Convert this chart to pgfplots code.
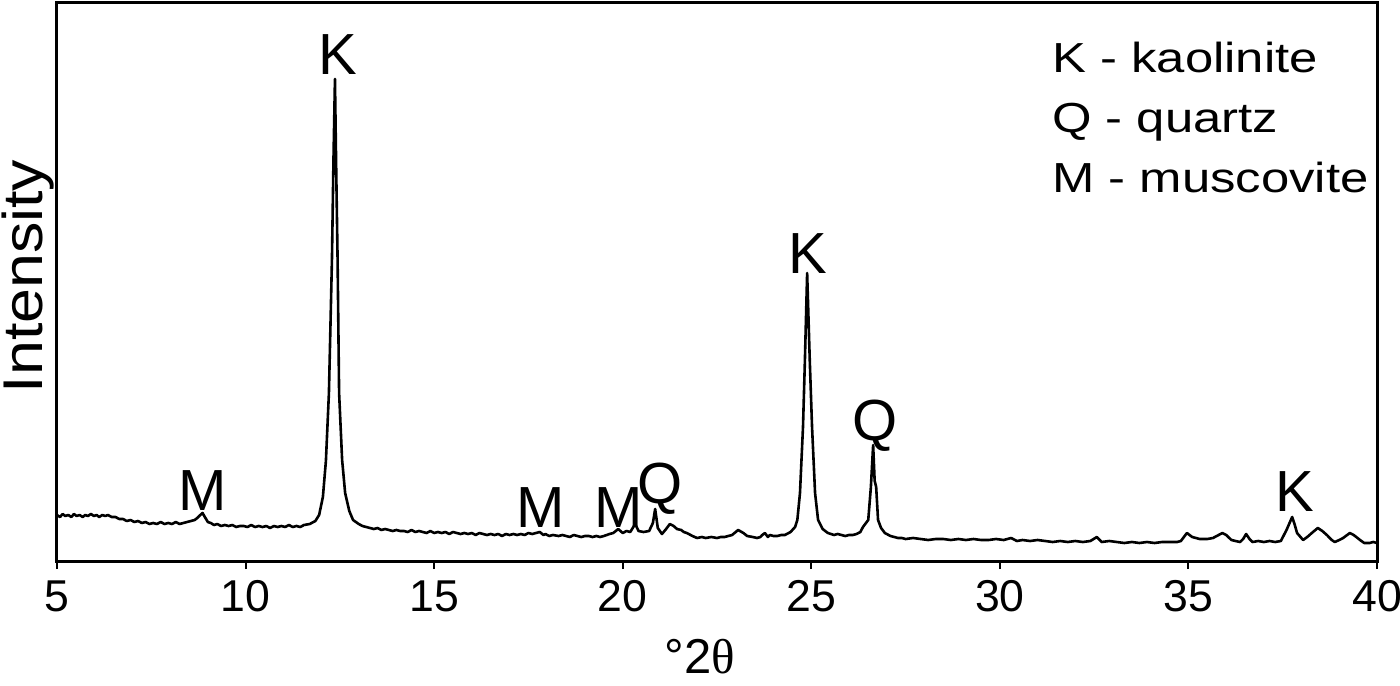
\documentclass[border=0pt]{standalone}
\usepackage{pgfplots}
\pgfplotsset{compat=1.18}
\usepackage{fontspec}
\setmainfont{Liberation Sans}
\newfontfamily\serifgreek{Liberation Serif}
\pgfplotstableread{
x y
5.00 46
5.08 44
5.15 47
5.22 45
5.30 46
5.38 44
5.45 47
5.52 45
5.60 46
5.68 44
5.75 46
5.82 45
5.90 47
5.98 45
6.05 46
6.12 44
6.20 46
6.28 45
6.35 46
6.45 44
6.55 44
6.65 42
6.75 42
6.85 40
6.95 41
7.05 39
7.15 40
7.25 38
7.35 39
7.45 37
7.55 38
7.65 37
7.75 39
7.85 37
7.95 38
8.05 37
8.15 39
8.25 37
8.35 38
8.45 39
8.55 40
8.65 41
8.72 43
8.80 46
8.86 48
8.92 44
9.00 39
9.08 38
9.16 36
9.25 37
9.35 35
9.45 36
9.55 35
9.65 36
9.75 34
9.85 35
9.95 35
10.05 34
10.15 36
10.25 34
10.35 35
10.45 34
10.55 35
10.65 33
10.75 35
10.85 34
10.95 35
11.05 34
11.15 36
11.25 34
11.35 35
11.45 34
11.55 36
11.70 37
11.85 40
11.95 46
12.05 64
12.13 100
12.21 168
12.29 301
12.33 400
12.37 482
12.40 400
12.44 301
12.48 168
12.56 101
12.64 68
12.75 50
12.85 41
13.00 37
13.10 35
13.20 34
13.30 33
13.40 32
13.50 33
13.60 31
13.70 32
13.80 31
13.90 30
14.00 31
14.10 30
14.20 30
14.30 29
14.40 31
14.50 29
14.60 30
14.70 29
14.80 28
14.90 30
15.00 28
15.10 29
15.20 28
15.30 29
15.40 27
15.50 29
15.60 28
15.70 27
15.80 28
15.90 27
16.00 28
16.10 26
16.20 28
16.30 27
16.40 26
16.50 27
16.60 26
16.70 27
16.80 25
16.90 27
17.00 26
17.10 27
17.20 26
17.30 27
17.40 26
17.50 28
17.60 27
17.70 28
17.80 29
17.90 26
17.95 27
18.05 25
18.15 26
18.30 25
18.40 26
18.50 25
18.60 24
18.70 26
18.80 25
18.90 24
19.00 25
19.10 25
19.20 24
19.30 25
19.40 24
19.50 25
19.65 27
19.75 28
19.88 32
20.00 28
20.10 30
20.20 29
20.33 37
20.42 30
20.55 29
20.70 30
20.80 38
20.86 52
20.93 33
21.04 27
21.15 32
21.25 37
21.35 35
21.44 32
21.55 31
21.62 29
21.70 28
21.85 25
21.97 23
22.10 24
22.20 23
22.35 24
22.50 23
22.60 24
22.70 24
22.80 25
22.90 26
23.06 31
23.20 28
23.30 25
23.45 24
23.56 23
23.65 24
23.70 26
23.77 28
23.85 24
23.90 26
24.00 25
24.10 25
24.20 26
24.30 26
24.45 29
24.57 34
24.63 41
24.70 68
24.78 134
24.83 200
24.89 288
24.96 200
25.02 134
25.10 68
25.18 41
25.30 32
25.44 28
25.52 27
25.60 26
25.70 27
25.80 26
25.90 25
26.00 26
26.10 26
26.20 27
26.30 29
26.37 34
26.45 38
26.51 41
26.58 74
26.64 116
26.68 80
26.72 74
26.77 41
26.85 33
26.95 28
27.10 25
27.20 24
27.30 23
27.40 23
27.50 22
27.70 23
27.90 22
28.10 21
28.30 22
28.50 22
28.70 21
28.90 22
29.10 21
29.30 22
29.50 21
29.70 21
29.90 22
30.10 21
30.30 23
30.45 20
30.60 21
30.80 20
31.00 21
31.20 20
31.40 19
31.60 20
31.80 19
32.00 20
32.20 19
32.40 20
32.57 24
32.70 19
32.90 20
33.10 19
33.30 18
33.50 19
33.70 18
33.90 19
34.10 18
34.30 19
34.50 19
34.70 19
34.80 20
34.96 28
35.10 24
35.30 22
35.50 22
35.65 23
35.80 26
35.90 28
36.00 26
36.14 21
36.25 20
36.37 19
36.45 22
36.53 27
36.62 22
36.70 19
36.85 20
37.00 19
37.15 20
37.30 19
37.45 20
37.60 31
37.75 44
37.82 36
37.88 28
38.04 21
38.15 24
38.27 28
38.43 33
38.55 30
38.67 26
38.80 21
38.88 19
39.00 21
39.10 23
39.28 28
39.38 26
39.45 24
39.55 21
39.66 18
39.80 18
39.90 19
40.00 18
}\xrd
\begin{document}
\begin{tikzpicture}
\begin{axis}[
  scale only axis,
  width=660pt, height=279pt,
  xmin=5, xmax=40, ymin=0, ymax=558,
  xtick={5,10,15,20,25,30,35,40},
  ytick=\empty,
  tick align=outside,
  major tick length=4pt,
  every tick/.style={black, line width=1pt},
  axis line style={line width=1.5pt},
  xtick pos=bottom,
  tick label style={font=\fontsize{22.3}{26}\selectfont},
  xticklabel style={anchor=north, inner sep=0pt, yshift=-5.5pt},
  /pgf/number format/assume math mode=true,
  xlabel={°2{\serifgreek θ}},
  xlabel style={font=\fontsize{24.5}{28}\selectfont, at={(axis description cs:0.487,0)}, anchor=base, inner sep=0pt, yshift=-56pt},
  ylabel={\scalebox{1.12}[1]{Intensity}},
  ylabel style={font=\fontsize{28}{32}\selectfont, at={(axis description cs:0,0.51)}, anchor=center, yshift=14.5pt},
  clip=false,
]
\addplot[black, line width=1.3pt, line join=round] table[x=x,y=y] {\xrd};
\begin{scope}[every node/.style={font=\fontsize{29}{33}\selectfont, anchor=base, inner sep=0pt}]
\node at (axis cs:12.45,486) {K};
\node at (axis cs:8.87,51) {M};
\node at (axis cs:17.83,34) {M};
\node at (axis cs:19.88,34) {M};
\node at (axis cs:20.99,58) {Q};
\node at (axis cs:24.91,287) {K};
\node at (axis cs:26.69,121) {Q};
\node at (axis cs:37.83,50) {K};
\end{scope}
\begin{scope}[every node/.style={font=\fontsize{21}{25}\selectfont, anchor=base west, inner sep=0pt}]
\node at (axis cs:31.38,488) {\scalebox{1.21}[1]{K - kaolinite}};
\node at (axis cs:31.38,428) {\scalebox{1.21}[1]{Q - quartz}};
\node at (axis cs:31.38,368) {\scalebox{1.21}[1]{M - muscovite}};
\end{scope}
\end{axis}
\pgfresetboundingbox
\path (-28.5pt,-62pt) rectangle (671.5pt,280.5pt);
\end{tikzpicture}
\end{document}
